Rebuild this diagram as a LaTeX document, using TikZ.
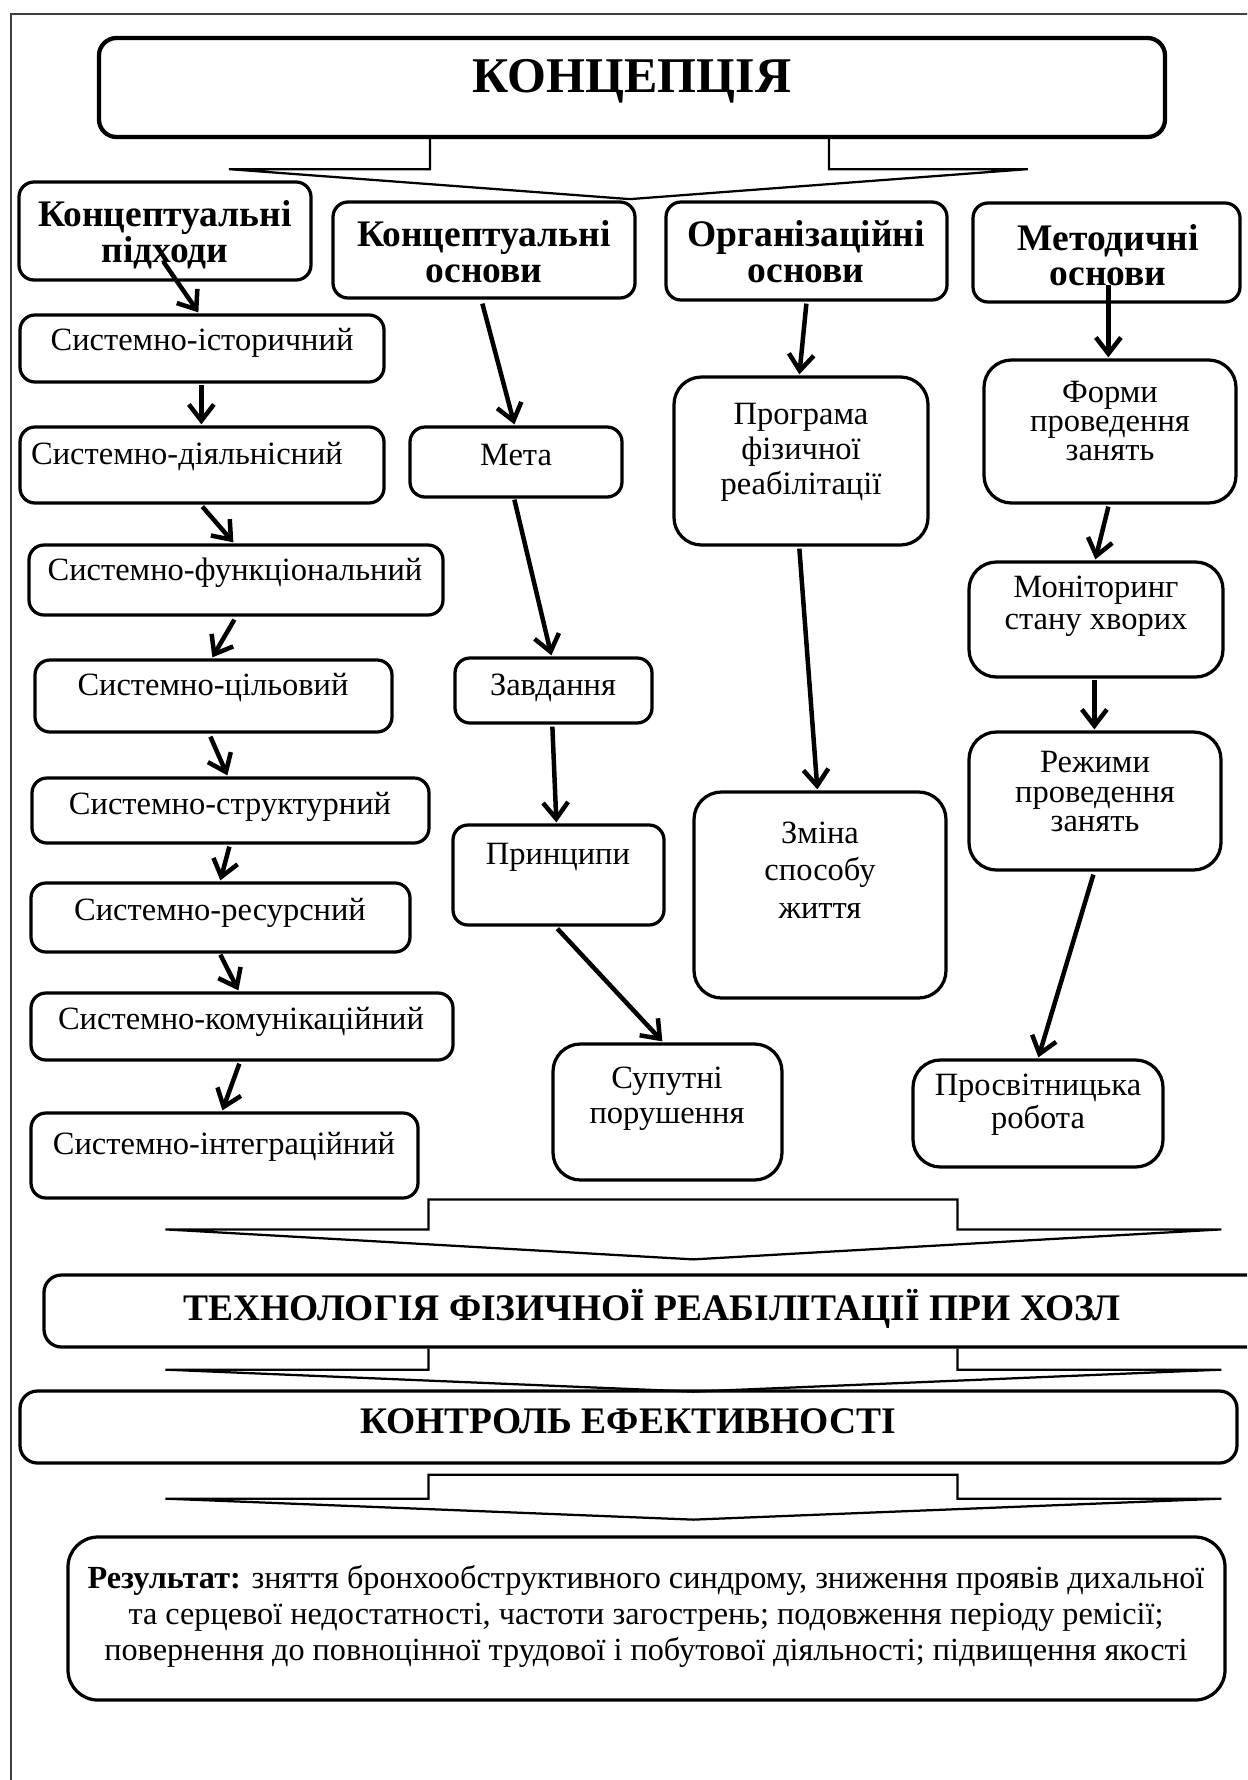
\documentclass[tikz,border=0pt]{standalone}
\usepackage{fontspec}
\setmainfont{Liberation Serif}
\usetikzlibrary{arrows.meta,fit,calc}
\newcommand\bx[6][]{%
  \path (#3,#4) coordinate (#2-nw) (#5,#6) coordinate (#2-se);
  \node[box,fit=(#2-nw)(#2-se),#1] (#2) {};}
\newcommand\conn[4]{\draw[arr] ([shift={#2}]#1.south west) -- ([shift={#4}]#3.north west);}
\begin{document}
\begin{tikzpicture}[x=0.4pt,y=-0.4pt,
  box/.style={draw, line width=1.3pt, rounded corners=6pt, inner sep=0pt},
  bigbox/.style={box, rounded corners=11pt},
  arr/.style={line width=1.8pt, -{Straight Barb[length=6.5pt,width=10pt]}},
  blockarr/.style={line width=0.9pt, line join=miter},
  txt/.style={font=\fontsize{13}{12.5}\selectfont, align=center, inner sep=0pt},
  hdr/.style={font=\fontsize{15}{14.5}\selectfont\bfseries, align=center, inner sep=0pt},
  ttl/.style={font=\fontsize{15}{15}\selectfont\bfseries, inner sep=0pt, anchor=base}]
\useasboundingbox (0,0) rectangle (1247,1780);
\clip (0,0) rectangle (1247,1780);
% frame
\draw[line width=0.7pt, black!75] (11,14) rectangle (1300,1830);

% title
\bx[line width=1.7pt, rounded corners=7pt]{konc}{99}{38}{1165}{137}
\node[ttl, font=\fontsize{20}{20}\selectfont\bfseries] (konc-t) at (632,92) {КОНЦЕПЦІЯ};
\draw[blockarr] ([shift={(333,0)}]konc.south west) -- ++(0,30) -- ++(-201,0) -- ++(401,30) -- ++(398,-30) -- ++(-199,0) -- ++(0,-30);

% column 1
\bx{pidkh}{19}{182}{311}{280}
\node[hdr] (pidkh-t) at (165,235) {Концептуальні\\підходи};
\bx{s1}{20}{315}{384}{382}
\node[txt] (s1-t) at (202,343) {Системно-історичний};
\bx{s2}{20}{427}{384}{503}
\node[txt] (s2-t) at (187,457) {Системно-діяльнісний};
\bx{s3}{29}{545}{443}{615}
\node[txt] (s3-t) at (235,573) {Системно-функціональний};
\bx{s4}{35}{660}{392}{732}
\node[txt] (s4-t) at (213,688) {Системно-цільовий};
\bx{s5}{32}{778}{429}{843}
\node[txt] (s5-t) at (230,807) {Системно-структурний};
\bx{s6}{31}{883}{410}{952}
\node[txt] (s6-t) at (220,913) {Системно-ресурсний};
\bx{s7}{31}{993}{453}{1060}
\node[txt] (s7-t) at (241,1022) {Системно-комунікаційний};
\bx{s8}{31}{1113}{418}{1198}
\node[txt] (s8-t) at (224,1147) {Системно-інтеграційний};
\conn{pidkh}{(146,-20)}{s1}{(180,-1)}
\conn{s1}{(183,1)}{s2}{(183,-1)}
\conn{s2}{(184,2)}{s3}{(206,-1)}
\conn{s3}{(207,3)}{s4}{(179,-1)}
\conn{s4}{(177,3)}{s5}{(197,-1)}
\conn{s5}{(199,2)}{s6}{(191,-1)}
\conn{s6}{(191,1)}{s7}{(209,-1)}
\conn{s7}{(210,2)}{s8}{(193,-1)}

% column 2
\bx{osn}{333}{202}{635}{298}
\node[hdr] (osn-t) at (484,252) {Концептуальні\\основи};
\bx{meta}{410}{427}{622}{497}
\node[txt] (meta-t) at (516,455) {Мета};
\bx{zavd}{455}{658}{652}{723}
\node[txt] (zavd-t) at (553,688) {Завдання};
\bx{prin}{453}{825}{664}{925}
\node[txt] (prin-t) at (558,857) {Принципи};
\bx[bigbox]{sup}{553}{1044}{782}{1180}
\node[txt, font=\fontsize{13}{14}\selectfont] (sup-t) at (667,1099) {Супутні\\порушення};
\conn{osn}{(151,4)}{meta}{(106,-1)}
\conn{meta}{(106,1)}{zavd}{(98,-1)}
\conn{zavd}{(99,2)}{prin}{(105,-1)}
\conn{prin}{(106,2)}{sup}{(111,-1)}

% column 3
\bx{org}{666}{202}{947}{300}
\node[hdr] (org-t) at (806,252) {Організаційні\\основи};
\bx[bigbox]{prog}{674}{377}{928}{545}
\node[txt, font=\fontsize{13}{14}\selectfont] (prog-t) at (801,452) {Програма\\фізичної\\реабілітації};
\bx[bigbox]{zmina}{694}{792}{946}{998}
\node[txt, font=\fontsize{13}{15}\selectfont] (zmina-t) at (820,870) {Зміна\\способу\\життя};
\conn{org}{(142,2)}{prog}{(127,-1)}
\conn{prog}{(127,2)}{zmina}{(125,-1)}

% column 4
\bx{met}{973}{203}{1240}{302}
\node[hdr, font=\fontsize{15}{14}\selectfont\bfseries] (met-t) at (1108,255) {Методичні\\основи};
\bx[bigbox]{form}{984}{360}{1236}{503}
\node[txt, font=\fontsize{13}{11.6}\selectfont] (form-t) at (1110,421) {Форми\\проведення\\занять};
\bx[bigbox]{mon}{969}{562}{1223}{677}
\node[txt, font=\fontsize{13}{12.8}\selectfont] (mon-t) at (1096,606) {Моніторинг\\стану хворих};
\bx[bigbox]{rezh}{969}{732}{1221}{870}
\node[txt, font=\fontsize{13}{11.8}\selectfont] (rezh-t) at (1095,792) {Режими\\проведення\\занять};
\bx[bigbox]{prosv}{913}{1060}{1163}{1167}
\node[txt, font=\fontsize{13}{12}\selectfont] (prosv-t) at (1038,1105) {Просвітницька\\робота};
\conn{met}{(137,-19)}{form}{(126,-1)}
\conn{form}{(126,2)}{mon}{(128,-1)}
\conn{mon}{(127,1)}{rezh}{(127,-1)}
\conn{rezh}{(126,3)}{prosv}{(127,-1)}

% bottom part
\bx[rounded corners=7pt]{tech}{44}{1275}{1265}{1347}
\node[ttl] (tech-t) at (652,1320) {ТЕХНОЛОГІЯ ФІЗИЧНОЇ РЕАБІЛІТАЦІЇ ПРИ ХОЗЛ};
\draw[blockarr] ([shift={(386,-74)}]tech.north west) -- ++(529,0) -- ++(0,30) -- ++(264,0) -- ++(-528,30) -- ++(-528,-30) -- ++(263,0) -- cycle;
\bx[rounded corners=7pt]{kontr}{20}{1391}{1237}{1463}
\node[ttl] (kontr-t) at (628,1433) {КОНТРОЛЬ ЕФЕКТИВНОСТІ};
\draw[blockarr] ([shift={(386,0)}]tech.south west) -- ++(0,21) -- ++(-263,0) -- ++(528,22) -- ++(528,-22) -- ++(-264,0) -- ++(0,-21);
\draw[blockarr] ([shift={(410,10)}]kontr.south west) -- ++(529,0) -- ++(0,24) -- ++(264,0) -- ++(-528,21) -- ++(-528,-21) -- ++(263,0) -- cycle;
\bx[rounded corners=12pt]{rez}{68}{1537}{1225}{1700}
\node[txt, font=\fontsize{12.9}{14.4}\selectfont] (rez-t) at (646,1616) {\textbf{Результат:} зняття бронхообструктивного синдрому, зниження проявів дихальної\\та серцевої недостатності, частоти загострень; подовження періоду ремісії;\\повернення до повноцінної трудової і побутової діяльності; підвищення якості};
\end{tikzpicture}
\end{document}
